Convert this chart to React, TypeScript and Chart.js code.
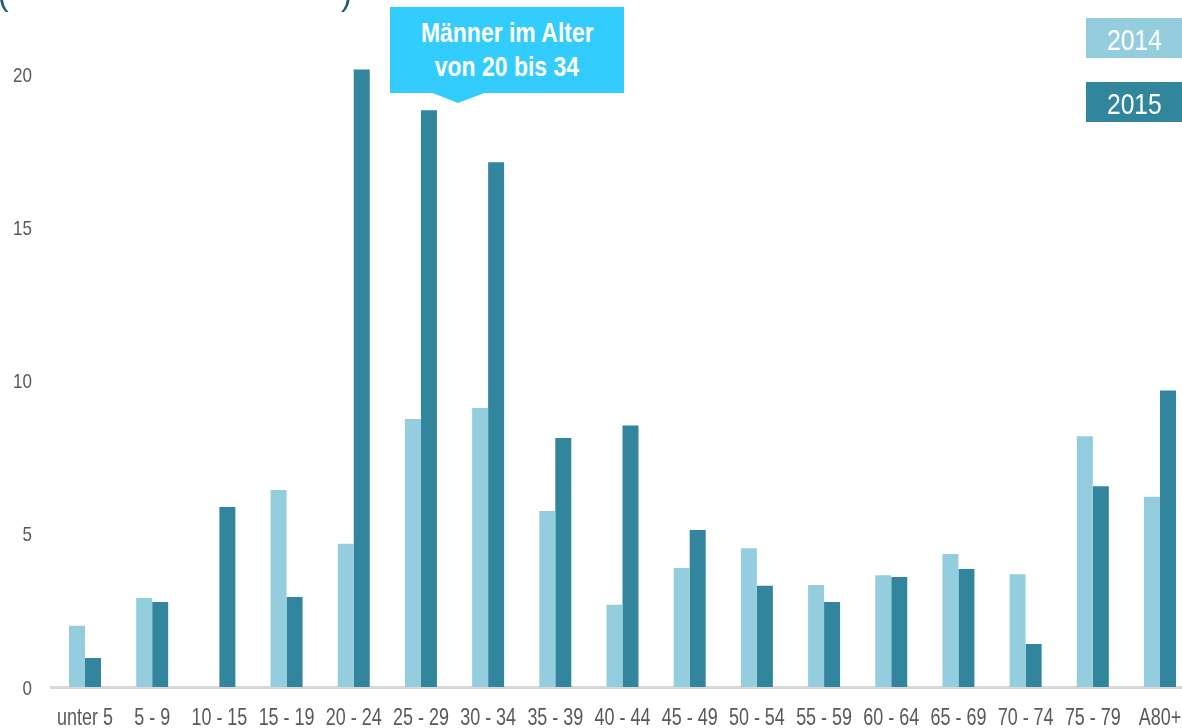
import React, { useEffect, useRef } from "react";
import { Chart, registerables } from "chart.js";

Chart.register(...registerables);

const categories = [
  "unter 5", "5 - 9", "10 - 15", "15 - 19", "20 - 24", "25 - 29", "30 - 34", "35 - 39",
  "40 - 44", "45 - 49", "50 - 54", "55 - 59", "60 - 64", "65 - 69", "70 - 74", "75 - 79", "A80+",
];
const values2014 = [2.0, 2.9, 0, 6.43, 4.67, 8.74, 9.1, 5.74, 2.68, 3.88, 4.53, 3.33, 3.65, 4.34, 3.68, 8.18, 6.21];
const values2015 = [0.95, 2.77, 5.87, 2.94, 20.15, 18.82, 17.12, 8.12, 8.53, 5.12, 3.3, 2.77, 3.59, 3.85, 1.4, 6.55, 9.67];
const yTicks = [0, 5, 10, 15, 20];
const seriesLabels = ["2014", "2015"];
const calloutLines = ["Männer im Alter", "von 20 bis 34"];

const LIGHT = "#94CDDD";
const DARK = "#31859C";
const FONT = "'Liberation Sans', Arial, sans-serif";
const TICK_COLOR = "#595959";

// Draws the tick labels in a condensed (Arial-Narrow-like) style using the scales' own positions.
const narrowLabels = {
  id: "narrowLabels",
  afterDraw(chart: any) {
    const ctx = chart.ctx;
    const xs = chart.scales.x;
    const ys = chart.scales.y;
    ctx.save();
    ctx.fillStyle = TICK_COLOR;
    ctx.textBaseline = "alphabetic";
    ctx.font = `23px ${FONT}`;
    ctx.textAlign = "center";
    xs.ticks.forEach((t: any, i: number) => {
      const x = xs.getPixelForTick(i);
      ctx.save();
      ctx.translate(x, xs.top + 38);
      ctx.scale(0.78, 1);
      ctx.fillText(String(xs.getLabelForValue(t.value)), 0, 0);
      ctx.restore();
    });
    ctx.font = `21px ${FONT}`;
    ctx.textAlign = "right";
    ys.ticks.forEach((t: any) => {
      const y = ys.getPixelForValue(t.value);
      ctx.save();
      ctx.translate(ys.right - 19.4, y + 7.5);
      ctx.scale(0.81, 1);
      ctx.fillText(String(t.value), 0, 0);
      ctx.restore();
    });
    ctx.restore();
  },
};

const narrow = (scale: number): React.CSSProperties => ({
  display: "inline-block",
  transform: `scaleX(${scale})`,
  transformOrigin: "center",
  whiteSpace: "nowrap",
});

export default function App() {
  const ref = useRef<HTMLCanvasElement | null>(null);

  useEffect(() => {
    if (!ref.current) return;
    const chart = new Chart(ref.current, {
      type: "bar",
      data: {
        labels: categories,
        datasets: [
          { label: seriesLabels[0], data: values2014, backgroundColor: LIGHT, borderWidth: 0 },
          { label: seriesLabels[1], data: values2015, backgroundColor: DARK, borderWidth: 0 },
        ],
      },
      plugins: [narrowLabels],
      options: {
        animation: false,
        responsive: false,
        devicePixelRatio: 1,
        layout: { padding: { left: 0, right: 6.4, top: 12.7, bottom: 0 } },
        plugins: { legend: { display: false }, tooltip: { enabled: false }, title: { display: false } },
        datasets: { bar: { categoryPercentage: 0.476, barPercentage: 1.0 } },
        scales: {
          x: {
            grid: { display: false, drawTicks: false },
            border: { display: true, color: "#D9D9D9", width: 3 },
            ticks: { display: false, autoSkip: false, maxRotation: 0, minRotation: 0 },
            afterFit: (s: any) => { s.height = 41; },
          },
          y: {
            min: 0,
            max: 22,
            grid: { display: false, drawTicks: false },
            border: { display: false },
            ticks: { display: false, stepSize: 5 },
            afterBuildTicks: (s: any) => {
              s.ticks = yTicks.map((v) => ({ value: v }));
            },
            afterFit: (s: any) => { s.width = 51.4; },
          },
        },
      },
    });
    return () => chart.destroy();
  }, []);

  return (
    <div style={{ position: "fixed", left: 0, top: 0, width: 1182, height: 728, overflow: "hidden", background: "#fff" }}>
      <canvas ref={ref} width={1200} height={728} style={{ position: "absolute", left: 0, top: 0, width: 1200, height: 728 }} />
      <div style={{ position: "absolute", left: -2, top: -24, fontFamily: FONT, fontSize: 32, lineHeight: "36px", color: "#1F5C6E" }}>(</div>
      <div style={{ position: "absolute", left: 341, top: -24, fontFamily: FONT, fontSize: 32, lineHeight: "36px", color: "#1F5C6E" }}>)</div>
      <div style={{ position: "absolute", left: 390, top: 7, width: 234, height: 86, background: "#33CCFF" }} />
      <svg style={{ position: "absolute", left: 0, top: 0 }} width={700} height={110}>
        <polygon points="430,92 487,92 458,103" fill="#33CCFF" />
      </svg>
      <div style={{ position: "absolute", left: 390, top: 16.3, width: 234, textAlign: "center", color: "#fff", fontFamily: FONT, fontWeight: "bold", fontSize: 28, lineHeight: "34px" }}>
        <div><span style={narrow(0.82)}>{calloutLines[0]}</span></div>
        <div><span style={narrow(0.82)}>{calloutLines[1]}</span></div>
      </div>
      <div style={{ position: "absolute", left: 1086, top: 18, width: 96, height: 40, background: LIGHT, color: "#fff", fontFamily: FONT, fontSize: 30, lineHeight: "43px", textAlign: "center", overflow: "hidden" }}>
        <span style={narrow(0.82)}>{seriesLabels[0]}</span>
      </div>
      <div style={{ position: "absolute", left: 1086, top: 82, width: 96, height: 40, background: DARK, color: "#fff", fontFamily: FONT, fontSize: 30, lineHeight: "43px", textAlign: "center", overflow: "hidden" }}>
        <span style={narrow(0.82)}>{seriesLabels[1]}</span>
      </div>
    </div>
  );
}
